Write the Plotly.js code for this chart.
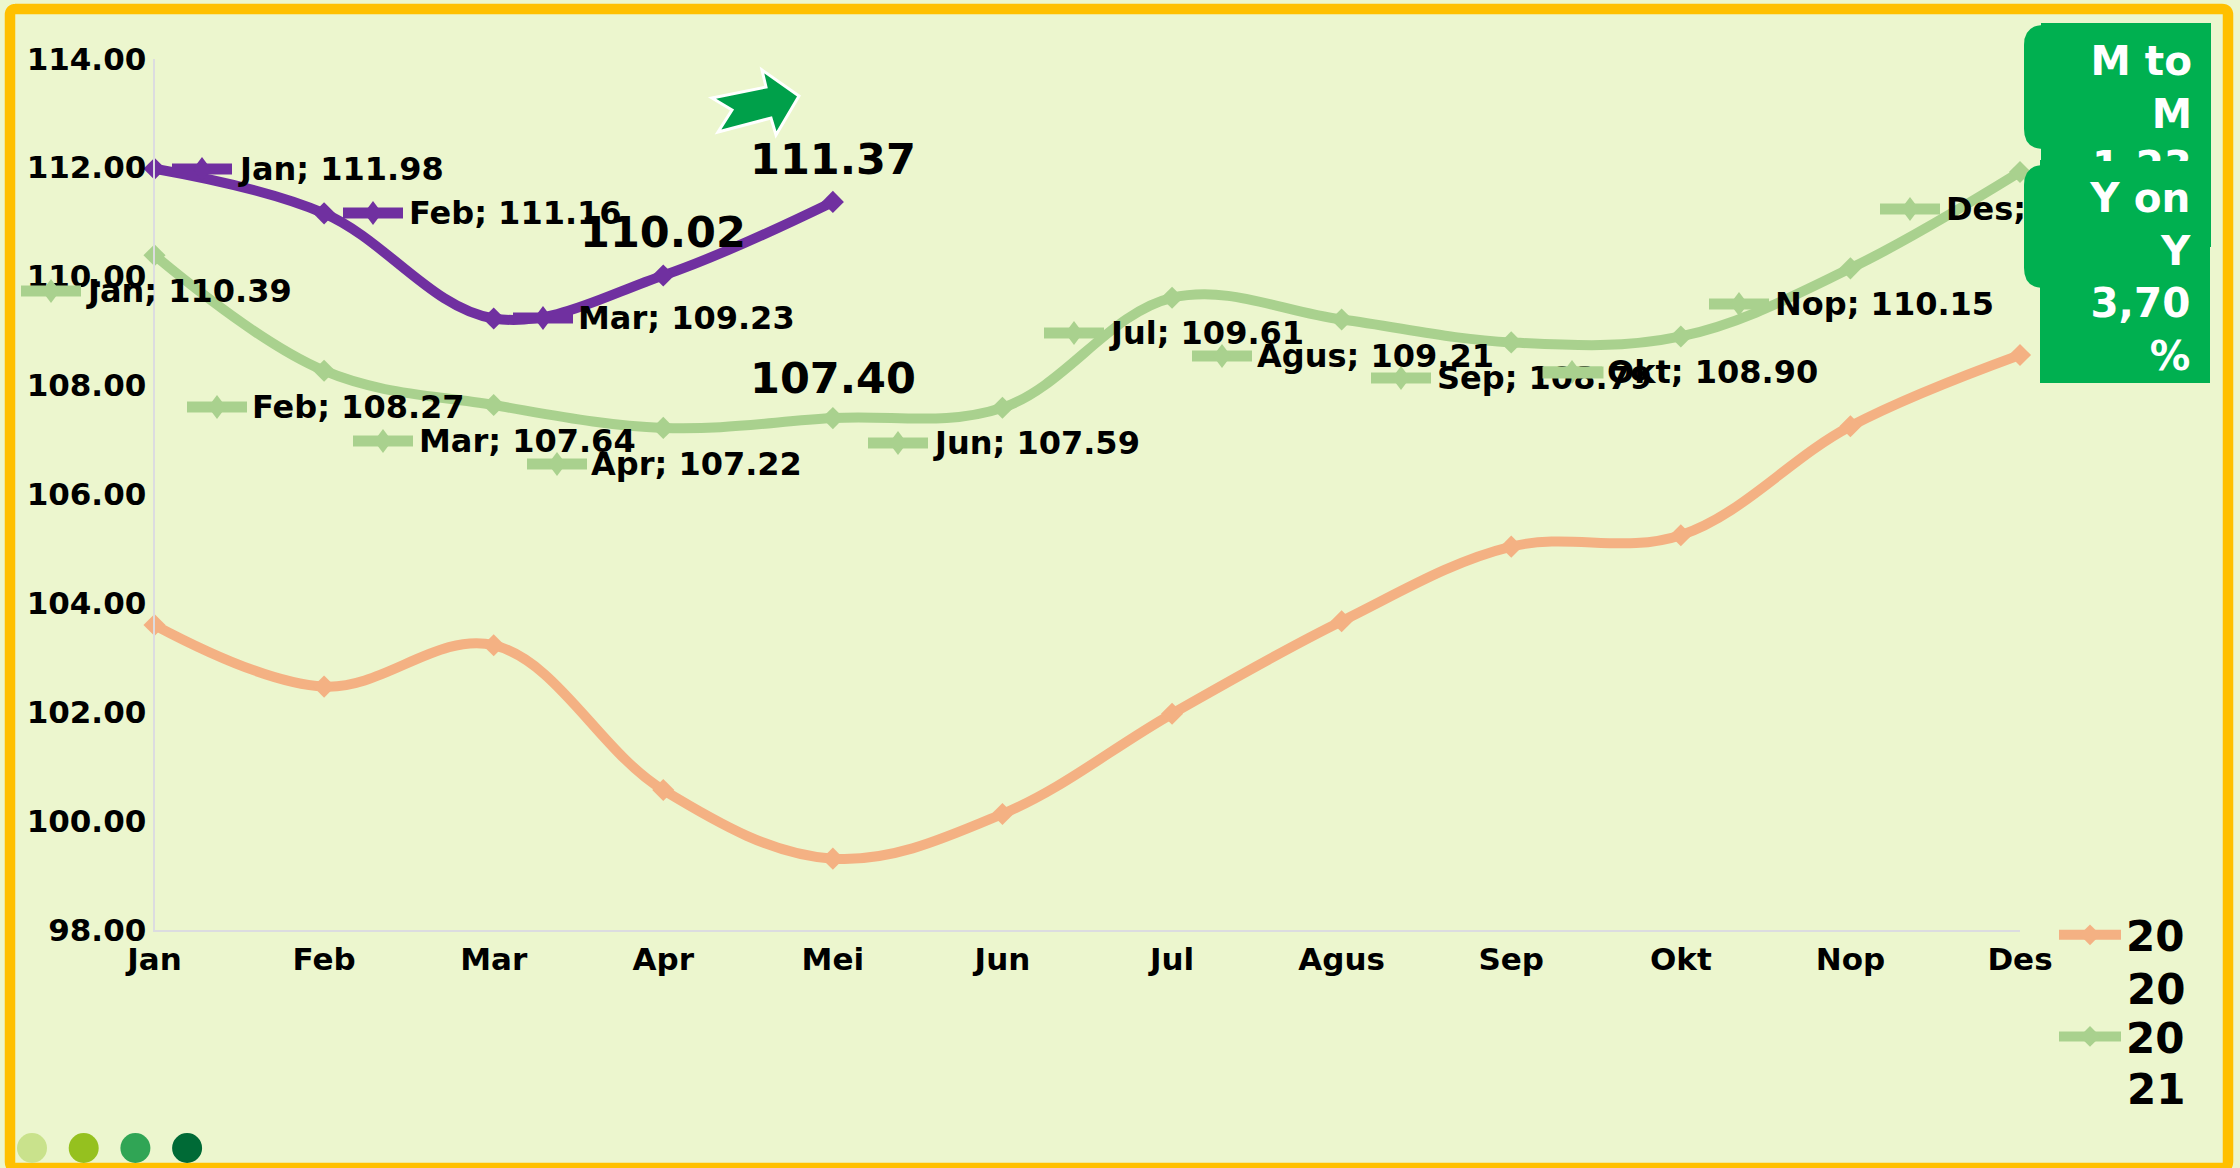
<!DOCTYPE html>
<html>
<head>
<meta charset="utf-8">
<script src="https://cdn.plot.ly/plotly-3.0.1.min.js"></script>
<style>html,body{margin:0;padding:0;background:#ecf6ce;overflow:hidden}#c{width:2240px;height:1168px}</style>
</head>
<body>
<div id="c"></div>
<script>
const months = ["Jan","Feb","Mar","Apr","Mei","Jun","Jul","Agus","Sep","Okt","Nop","Des"];
const yTicks = [98,100,102,104,106,108,110,112,114];
const values2020 = [103.60,102.47,103.23,100.57,99.31,100.13,101.97,103.67,105.04,105.25,107.25,108.56];
const values2021 = [110.39,108.27,107.64,107.22,107.40,107.59,109.61,109.21,108.79,108.90,110.15,111.92];
const values2022 = [111.98,111.16,109.23,110.02,111.37];
const legend2020 = ["20","20"];
const legend2021 = ["20","21"];
const boxMonth = "M to<br>M<br>1,23<br>%";
const boxYear = "Y on<br>Y<br>3,70<br>%";

const ORANGE="#f4b183", GREEN="#a9d18e", PURPLE="#7030a0", BOX="#00b050", BG="#ecf6ce";
const FONT="DejaVu Sans";
const f=(size,color)=>({family:FONT,size:size,color:color||"#000",weight:700});

// placement of the callouts in page pixels: month index, key left, key centre y, text left
const keys2021=[[0,21,291,85],[1,187,407,251],[2,353,441,418],[3,527,464,590],[5,868,443,932],
  [6,1044,333,1108],[7,1192,356,1256],[8,1371,378,1436],[9,1542,372,1606],[10,1709,304,1774],[11,1880,209,1945]];
const keys2022=[[0,172,169,237],[1,343,213,408],[2,513,318,577]];

const shapes=[], annotations=[];
function px(s){return Object.assign({xref:"x2",yref:"y2"},s);}
function key(x0,y,color){
  shapes.push(px({type:"line",x0:x0,x1:x0+60,y0:y,y1:y,line:{color:color,width:11}}));
  const c=x0+30;
  shapes.push(px({type:"path",path:`M${c-9},${y}L${c},${y-12}L${c+9},${y}L${c},${y+12}Z`,fillcolor:color,line:{width:0}}));
}
function label(text,x,y,size){
  annotations.push({xref:"x2",yref:"y2",x:x,y:y,text:text,showarrow:false,xanchor:"left",yanchor:"middle",font:f(size||32),borderpad:0});
}
function callouts(list,vals,color){
  list.forEach(k=>{
    key(k[1],k[2],color);
    let t=months[k[0]]+"; "+vals[k[0]].toFixed(2);
    if(months[k[0]]==="Des") t="Des;";
    if(months[k[0]]==="Okt"){
      annotations.push({xref:"x2",yref:"y2",x:k[1],y:k[2],text:" ",showarrow:false,xanchor:"left",yanchor:"middle",
        width:60,height:11,bgcolor:color,borderpad:0});
    }
    label(t,k[3],k[2]);
  });
}
callouts(keys2021,values2021,GREEN);
callouts(keys2022,values2022,PURPLE);

// big value labels
[[values2022[3],663,232],[values2022[4],833,159],[values2021[4],833,378]].forEach(b=>{
  annotations.push({xref:"x2",yref:"y2",x:b[1],y:b[2],text:b[0].toFixed(2),showarrow:false,xanchor:"center",yanchor:"middle",font:f(43),borderpad:0});
});

// arrow
shapes.push(px({type:"path",path:"M712,98L766,87L762,70L799,96L776,135L771,118L718,132L732,110Z",fillcolor:"#00a04a",line:{color:"#ffffff",width:3}}));

// page frame
shapes.unshift(px({type:"path",path:"M15,9L2222,9Q2228,9 2228,15L2228,1162Q2228,1168 2222,1168L16,1168Q10,1168 10,1162L10,15Q10,9 16,9Z",
  fillcolor:"rgba(0,0,0,0)",line:{color:"#ffc000",width:10.5}}));

// dots
["#c9e28c","#95c11f","#30a555","#006a36"].forEach((c,i)=>{
  const x=32+i*51.7;
  shapes.push(px({type:"circle",x0:x-15,x1:x+15,y0:1133,y1:1163,fillcolor:c,line:{width:0}}));
});

// second lines of the wrapped legend entries
label(legend2020[1],2126,989,42);
label(legend2021[1],2126,1089,42);

// info boxes
function rounded(x0,x1,y0,y1,r){
  return `M${x0+r},${y0}L${x1},${y0}L${x1},${y1}L${x0+r},${y1}Q${x0},${y1} ${x0},${y1-r}L${x0},${y0+r}Q${x0},${y0} ${x0+r},${y0}Z`;
}
function box(rx0,rx1,ry0,ry1,cx0,cy0,cy1,text,clipH){
  shapes.push(px({type:"rect",x0:rx0,x1:rx1,y0:ry0,y1:ry1,fillcolor:BOX,line:{width:0}}));
  shapes.push(px({type:"path",path:rounded(cx0,rx0+40,cy0,cy1,20),fillcolor:BOX,line:{width:0}}));
  annotations.push({xref:"x2",yref:"y2",x:rx0,y:ry0,text:text,showarrow:false,xanchor:"left",yanchor:"top",
    width:rx1-rx0-33,height:clipH,align:"right",valign:"top",font:f(40.5,"#fff"),borderpad:13});
}
box(2041,2211,23,247,2024,25,149,boxMonth,124);
box(2040,2210,160,383,2024,165,288,boxYear,205);

const common={mode:"lines+markers",xaxis:"x",yaxis:"y",hoverinfo:"skip",cliponaxis:false};
const SPL={width:10,shape:"spline",smoothing:1.05};
const traces=[
 Object.assign({},common,{name:legend2020[0],legendgroup:"a",x:months,y:values2020,line:Object.assign({color:ORANGE},SPL),marker:{symbol:"diamond",size:17,color:ORANGE}}),
 Object.assign({},common,{name:legend2021[0],legendgroup:"b",x:months,y:values2021,line:Object.assign({color:GREEN},SPL),marker:{symbol:"diamond",size:17,color:GREEN}}),
 Object.assign({},common,{name:"2022",showlegend:false,x:months.slice(0,values2022.length),y:values2022,line:Object.assign({color:PURPLE},SPL),marker:{symbol:"diamond",size:17,color:PURPLE}}),
 {x:[0],y:[0],xaxis:"x2",yaxis:"y2",mode:"markers",marker:{opacity:0},showlegend:false,hoverinfo:"skip"}
];

const layout={
  width:2240,height:1168,
  margin:{l:0,r:0,t:0,b:0,pad:0},
  paper_bgcolor:BG,plot_bgcolor:"rgba(0,0,0,0)",
  font:{family:FONT},
  showlegend:true,
  legend:{x:2054/2240,y:1-901/1168,xanchor:"left",yanchor:"top",bgcolor:"rgba(0,0,0,0)",font:f(42),itemwidth:62,tracegroupgap:44,traceorder:"grouped"},
  xaxis:{domain:[154.5/2240,2020/2240],type:"category",categoryarray:months,range:[0,11],showgrid:false,zeroline:false,
    showline:true,linecolor:"#dcdce0",linewidth:2,ticks:"",tickfont:f(31),tickangle:0,anchor:"y",ticklabelstandoff:1},
  yaxis:{domain:[1-930/1168,1-58.7/1168],range:[98,114],tickvals:yTicks,ticktext:yTicks.map(v=>v.toFixed(2)),showgrid:false,zeroline:false,
    showline:true,linecolor:"#dcdce0",linewidth:2,ticks:"",tickfont:f(31),anchor:"x",ticklabelstandoff:0},
  xaxis2:{domain:[0,1],range:[0,2240],visible:false,anchor:"y2",fixedrange:true},
  yaxis2:{domain:[0,1],range:[1168,0],visible:false,anchor:"x2",fixedrange:true},
  shapes:shapes,annotations:annotations
};
Plotly.newPlot("c",traces,layout,{displayModeBar:false,responsive:false});
</script>
</body>
</html>
